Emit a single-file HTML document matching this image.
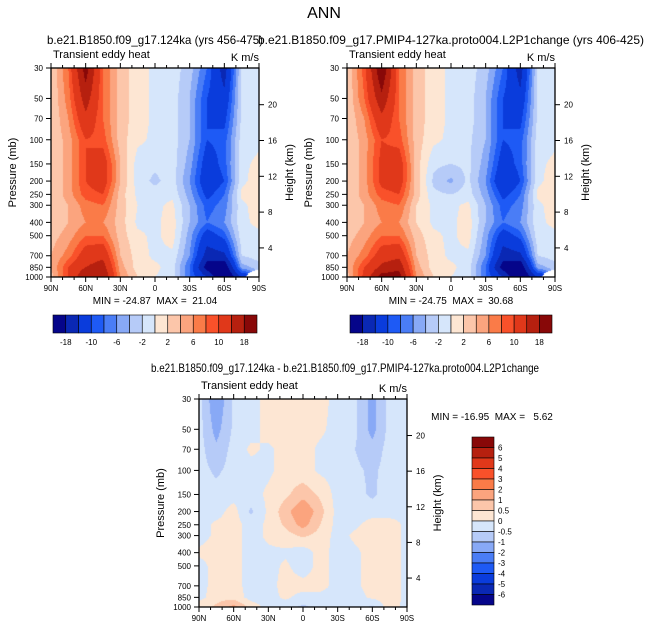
<!DOCTYPE html>
<html><head><meta charset="utf-8"><style>
body{margin:0;background:#fff;width:648px;height:630px;overflow:hidden;position:relative;font-family:"Liberation Sans",sans-serif}
canvas{position:absolute}
svg{position:absolute;left:0;top:0}
text{white-space:pre}
</style></head><body>
<canvas id="c1" width="208" height="209" style="left:51px;top:68px"></canvas>
<canvas id="c2" width="208" height="209" style="left:347px;top:68px"></canvas>
<canvas id="c3" width="208" height="208" style="left:199px;top:399px"></canvas>
<svg id="s" width="648" height="630"></svg>
<script>
const lats=[90,75,60,45,30,15,0,-15,-30,-45,-60,-75,-90];
const plevs=[30,50,70,100,150,200,250,300,400,500,700,850,1000];
const levelsTop=[-18,-14,-10,-8,-6,-4,-2,0,2,4,6,8,10,14,18];
const levelsDiff=[-6,-5,-4,-3,-2,-1,-0.5,0,0.5,1,2,3,4,5,6];
const colors=["#05058a","#0a28b4","#0a3cdc","#1e5af5","#4a7df6","#88a9f6","#b6cbf8","#d6e6fb","#fde6d3","#fcc6aa","#fba47e","#fa7b48","#f9512a","#e0381a","#b6200f","#880808"];
const fieldLeft=[
[2,8,20,8,3,1,-0.5,-1,-3,-8,-16,-1.5,-1],
[2,7,16,8,3,1,-0.5,-1,-4,-10,-13,-1.5,-1],
[2,6,13,8,3,1,-0.5,-1,-4,-10,-11,-1.5,-1],
[2,5,10,9,3,0.5,-0.5,-1,-4,-10,-9,-1,-0.5],
[2,5,10,12,4,-1,-1.5,-1,-5,-12,-9,-0.5,0.5],
[2,5,10,12,4,-1,-2.5,-1,-6,-13,-10,-0.5,1],
[2,5,9,10,3,-0.5,-1,-0.5,-5,-11,-8,0.5,1.5],
[2,4,7,8,3,0,-0.5,0.5,-4,-9,-7,-0.5,1],
[2,4,6,6,3,-0.5,-0.5,1,-4,-8,-6,-0.5,0.5],
[3,5,8,8,3,0.5,-0.5,1,-5,-12,-9,-0.8,-0.5],
[4,7,12,13,4,1,-0.5,-0.5,-6,-16,-15,-2,-1],
[4,10,14,16,5,1,0.5,-1,-8,-20,-22,-5,-3],
[3,10,18,18,6,2,0,-1,-8,-14,-24,-14,null]];
const fieldRight=[
[2,9,22,8,3,1,-0.5,-1,-3,-8,-16,-1.5,-1],
[2,8,17,8,3,1,-0.5,-1,-4,-10,-13,-1.5,-1],
[2,6,13,8,3,1,-0.5,-1,-4,-10,-11,-1.5,-1],
[2,5,10,9,3,0.5,-0.5,-1.5,-4,-10,-9,-1,-0.5],
[2,5,11,12,3,-1.5,-2,-1.5,-5,-12,-9,-0.5,0.5],
[2,5,11,12,3,-2.5,-4.5,-1.5,-6,-14,-10,-0.5,1],
[2,5,9,10,3,-1.5,-2,-1,-5,-11,-8,0.5,1.5],
[2,4,7,8,2,-0.5,-0.5,0.5,-4,-9,-7,-0.5,1],
[2,4,6,6,2,-0.5,-0.5,1,-4,-8,-6,-0.5,0.5],
[3,5,8,8,3,0.5,-0.5,1,-5,-12,-9,-0.8,-0.5],
[4,7,12,13,4,1,-0.5,-0.5,-6,-16,-15,-2,-1],
[4,10,15,17,5,1,0.5,-1,-8,-20,-22,-5,-3],
[3,11,20,20,6,2,0,-1,-8,-14,-24,-14,null]];
const fieldDiff=[
[-0.3,-1.5,-0.4,-0.2,0.2,0.2,0.2,0.2,-0.2,-0.4,-1.2,-0.3,-0.2],
[-0.3,-1.2,-0.4,-0.2,0.2,0.2,0.2,0.1,-0.2,-0.4,-1.2,-0.3,-0.2],
[-0.3,-0.9,-0.3,0.1,-0.1,0.2,0.2,-0.1,-0.2,-0.5,-0.8,-0.3,-0.2],
[-0.3,-0.6,-0.3,-0.2,-0.1,0.2,0.2,-0.1,-0.2,-0.4,-0.6,-0.3,-0.2],
[-0.3,-0.3,-0.2,-0.2,0.1,0.4,0.8,0.4,-0.2,-0.3,-0.6,-0.2,-0.1],
[-0.2,-0.2,0.2,-0.6,0.1,0.8,1.5,0.7,-0.2,-0.2,-0.2,-0.2,-0.1],
[-0.2,0.1,0.2,-0.2,0.1,0.6,1.2,0.5,-0.2,-0.1,0.2,0.2,-0.1],
[-0.2,0.1,0.2,-0.2,0.1,0.3,0.6,0.3,-0.2,0.1,0.2,0.2,-0.1],
[0.1,0.2,0.2,-0.2,-0.1,-0.1,-0.3,0.2,-0.2,-0.1,0.2,0.2,-0.1],
[-0.2,0.2,0.2,-0.2,-0.2,0.1,-0.3,0.2,-0.2,-0.1,0.2,0.2,-0.1],
[-0.2,0.2,0.2,-0.2,-0.2,0.2,0.2,0.2,-0.2,-0.1,0.2,0.2,-0.1],
[-0.2,0.3,0.3,-0.2,-0.2,0.1,-0.2,-0.2,-0.2,-0.2,0.1,0.2,-0.1],
[0.3,0.6,1.2,0.3,-0.2,-0.3,-0.6,-0.3,-0.2,-0.2,-0.6,0.3,-0.2]];
const pTickLabels=[30,50,70,100,150,200,250,300,400,500,700,850,1000];
const zTickLabels=[4,8,12,16,20];
const latTickLabels=["90N","60N","30N","0","30S","60S","90S"];
const topBarLabels=["-18","-10","-6","-2","2","6","10","18"];

const L0=Math.log(30),L1=Math.log(1000);
function yFrac(p){return (Math.log(p)-L0)/(L1-L0);}
function xFrac(lat){return (90-lat)/180;}
function zFrac(z){return (24.1-z)/23.35;}
function colorFor(v,lev){if(v===null||isNaN(v))return "#ffffff";let i=0;while(i<lev.length&&v>=lev[i])i++;return colors[i];}
function hex(c){return [parseInt(c.substr(1,2),16),parseInt(c.substr(3,2),16),parseInt(c.substr(5,2),16)];}
const rowF=plevs.map(yFrac);
function sample(f,fx,fy){
  let ci=fx*(lats.length-1);let c0=Math.min(Math.floor(ci),lats.length-2);let tx=ci-c0;
  let r0=0;while(r0<plevs.length-2&&rowF[r0+1]<fy)r0++;
  let ty=(fy-rowF[r0])/(rowF[r0+1]-rowF[r0]);
  const a=f[r0][c0],b=f[r0][c0+1],c=f[r0+1][c0],d=f[r0+1][c0+1];
  if(a===null||b===null||c===null||d===null){const vals=[[a,(1-tx)*(1-ty)],[b,tx*(1-ty)],[c,(1-tx)*ty],[d,tx*ty]];if(d===null&&tx*ty>0.25)return null;let s=0,w=0;vals.forEach(([v,ww])=>{if(v!==null){s+=v*ww;w+=ww;}});return s/w;}
  return a*(1-tx)*(1-ty)+b*tx*(1-ty)+c*(1-tx)*ty+d*tx*ty;
}
function draw(id,f,lev){
  const cv=document.getElementById(id),ctx=cv.getContext('2d');const W=cv.width,H=cv.height;
  const img=ctx.createImageData(W,H);
  for(let y=0;y<H;y++)for(let x=0;x<W;x++){
    const v=sample(f,(x+0.5)/W,(y+0.5)/H);const rgb=hex(colorFor(v,lev));const k=(y*W+x)*4;
    img.data[k]=rgb[0];img.data[k+1]=rgb[1];img.data[k+2]=rgb[2];img.data[k+3]=255;}
  ctx.putImageData(img,0,0);
}
draw('c1',fieldLeft,levelsTop);draw('c2',fieldRight,levelsTop);draw('c3',fieldDiff,levelsDiff);

const NS="http://www.w3.org/2000/svg";const svg=document.getElementById('s');
function el(tag,attrs,txt,parent){const e=document.createElementNS(NS,tag);for(const k in attrs)e.setAttribute(k,attrs[k]);if(txt!==undefined)e.textContent=txt;(parent||svg).appendChild(e);return e;}
function text(x,y,t,size,anchor,name,extra){const e=el('text',Object.assign({x:x,y:y,'font-size':size,'text-anchor':anchor||'start',fill:'#000'},extra||{}),t);return e;}

function axes(px,py,W,H,prefix){
  const g=el('g',{});
  el('rect',{x:px,y:py,width:W,height:H,fill:'none',stroke:'#000','stroke-width':1.3},undefined,g);
  pTickLabels.forEach(p=>{const y=py+yFrac(p)*H;el('line',{x1:px-5,x2:px,y1:y,y2:y,stroke:'#000'},undefined,g);
    text(px-8,y+3,String(p),8,'end',prefix+'-p-tick-'+p);});
  zTickLabels.forEach(z=>{const y=py+zFrac(z)*H;el('line',{x1:px+W,x2:px+W+5,y1:y,y2:y,stroke:'#000'},undefined,g);
    text(px+W+9,y+3,String(z),8,'start',prefix+'-z-tick-'+z);});
  for(let lat=90;lat>=-90;lat-=10){const x=px+xFrac(lat)*W;const major=lat%30===0;
    el('line',{x1:x,x2:x,y1:py+H,y2:py+H+(major?5:3),stroke:'#000'},undefined,g);
    el('line',{x1:x,x2:x,y1:py,y2:py-(major?5:3),stroke:'#000'},undefined,g);}
  latTickLabels.forEach((l,i)=>{const x=px+i/6*W;text(x,py+H+14,l,8,'middle',prefix+'-lat-tick-'+i);});
  text(px-35,py+H/2,'Pressure (mb)',11,'middle',prefix+'-y-axis-title',{transform:`rotate(-90 ${px-35} ${py+H/2})`});
  text(px+W+34,py+H/2,'Height (km)',11,'middle',prefix+'-right-axis-title',{transform:`rotate(-90 ${px+W+34} ${py+H/2})`});
  text(px+2,py-10,'Transient eddy heat',11,'start',prefix+'-left-string');
  text(px+W,py-7,'K m/s',11,'end',prefix+'-units');
}
axes(51,68,208,209,'left');axes(347,68,208,209,'right');axes(199,399,208,208,'diff');

text(324,18,'ANN',16,'middle','main-title');
text(155,44,'b.e21.B1850.f09_g17.124ka (yrs 456-475)',12,'middle','left-title',{textLength:216,lengthAdjust:'spacingAndGlyphs'});
text(451,44,'b.e21.B1850.f09_g17.PMIP4-127ka.proto004.L2P1change (yrs 406-425)',12,'middle','right-title',{textLength:386,lengthAdjust:'spacingAndGlyphs'});
text(345,372,'b.e21.B1850.f09_g17.124ka - b.e21.B1850.f09_g17.PMIP4-127ka.proto004.L2P1change',12,'middle','diff-title',{textLength:388,lengthAdjust:'spacingAndGlyphs'});
text(155,304,'MIN = -24.87  MAX =  21.04',10,'middle','left-minmax');
text(451,304,'MIN = -24.75  MAX =  30.68',10,'middle','right-minmax');
text(492,420,'MIN = -16.95  MAX =   5.62',10,'middle','diff-minmax');

function hbar(x0,y0,W,H,prefix){
  const n=colors.length,bw=W/n;
  colors.forEach((c,i)=>{const r=el('rect',{x:x0+i*bw,y:y0,width:bw,height:H,fill:c,stroke:'#000','stroke-width':0.6});
    });
  topBarLabels.forEach((l,i)=>{const x=x0+(1+2*i)*bw;text(x,y0+H+12,l,8,'middle',prefix+'-colorbar-label');});
}
hbar(53,315,204,18,'left');hbar(350,315,202,18,'right');
(function(){const x0=472,y0=437,W=22,H=168,n=colors.length,bh=H/n;
  colors.slice().reverse().forEach((c,i)=>{const r=el('rect',{x:x0,y:y0+i*bh,width:W,height:bh,fill:c,stroke:'#000','stroke-width':0.6});
    });
  levelsDiff.slice().reverse().forEach((v,i)=>{text(x0+W+4,y0+(i+1)*bh+3,String(v),8,'start','diff-colorbar-label');});
})();
</script>
</body></html>
